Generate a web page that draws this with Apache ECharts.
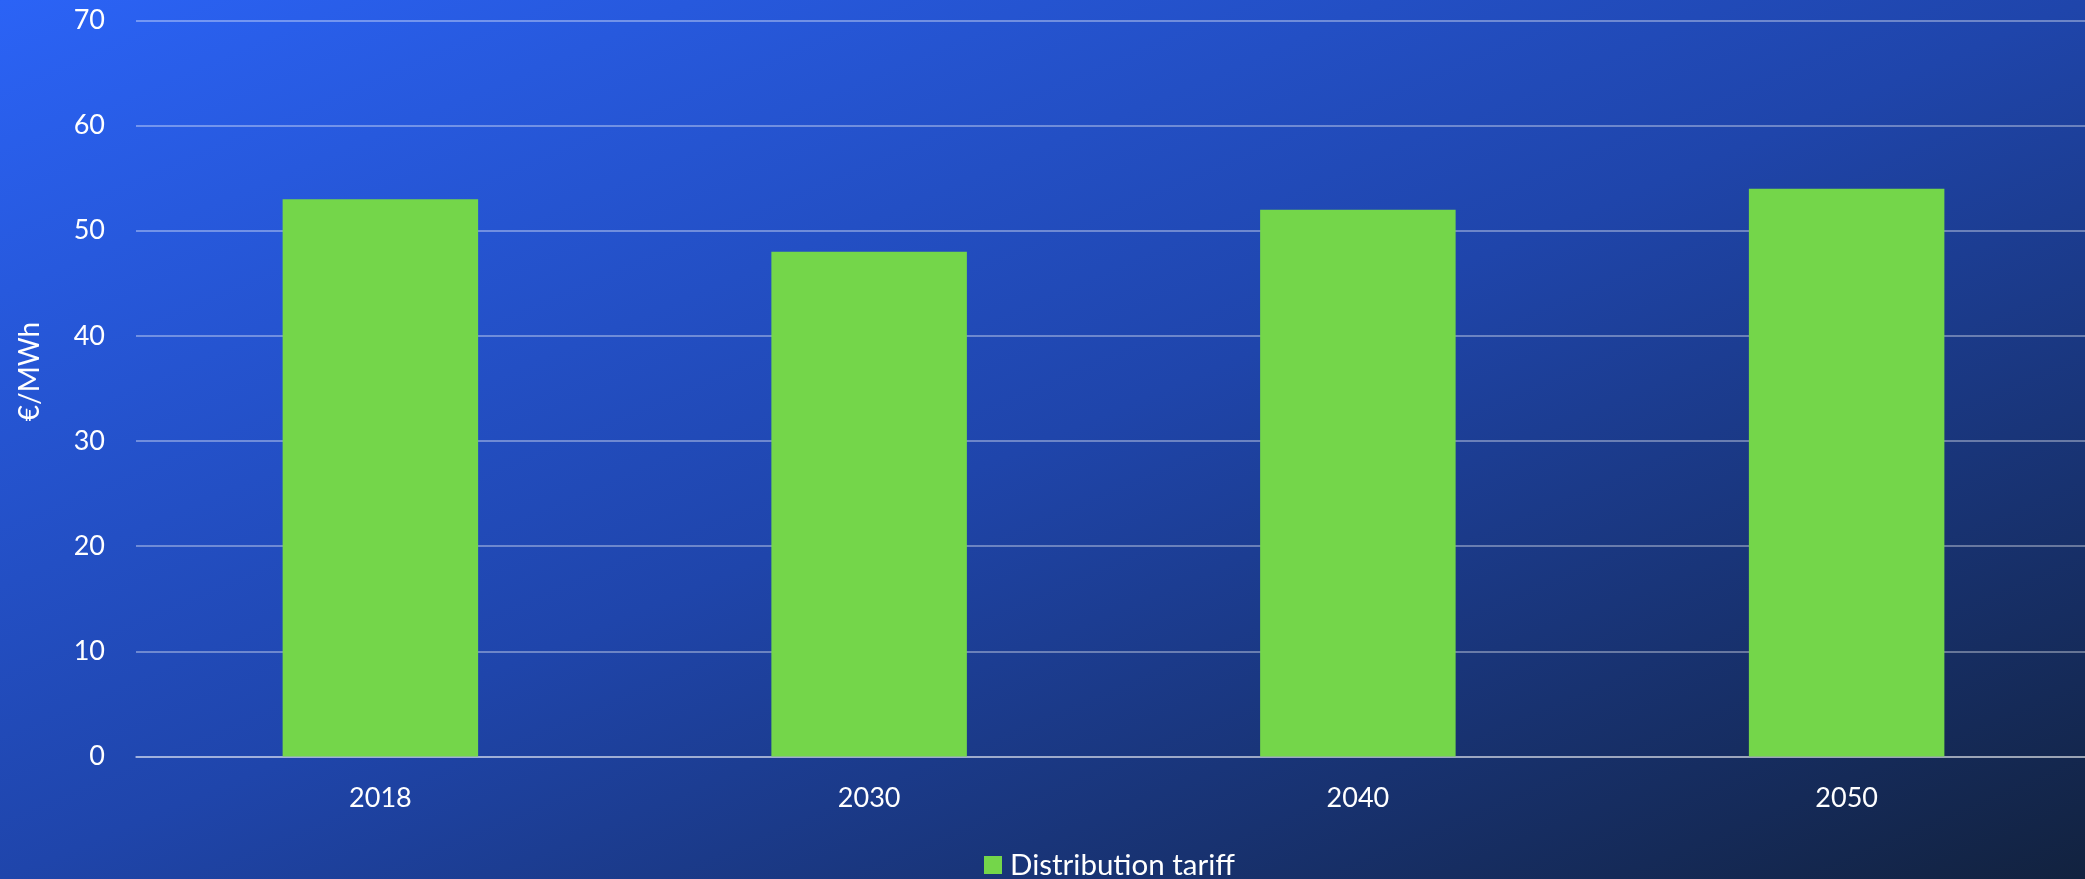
<!DOCTYPE html>
<html>
<head>
<meta charset="utf-8">
<title>Distribution tariff</title>
<script src="https://cdn.jsdelivr.net/npm/echarts@6/dist/echarts.min.js"></script>
<style>
  html, body { margin: 0; padding: 0; overflow: hidden; }
  /* plot area of the original runs a few px past the right edge */
  #chart { width: 2091px; height: 879px; }
</style>
</head>
<body>
<div id="chart"></div>
<script>
var years = ['2018', '2030', '2040', '2050'];
var tariff = [53, 48, 52, 54];
var seriesName = 'Distribution tariff';
var unitName = '€/MWh';

var chart = echarts.init(document.getElementById('chart'));

// background runs from bright blue (top left) to navy (bottom right)
var bg = new echarts.graphic.LinearGradient(728, -307, 1357, 1186, [
    { offset: 0, color: '#2b63f6' },
    { offset: 0.5, color: '#1f45ab' },
    { offset: 1, color: '#12223f' }
], true);

var textFont = 'Lato, "Open Sans", sans-serif';

var option = {
    backgroundColor: bg,
    textStyle: { fontFamily: textFont },
    grid: {
        left: 136,
        right: 0,
        top: 20.5,
        bottom: 122.5
    },
    legend: {
        data: [seriesName],
        bottom: -1,
        left: 984,
        padding: 0,
        icon: 'rect',
        itemWidth: 18,
        itemHeight: 18,
        itemGap: 10,
        textStyle: { color: '#ffffff', fontSize: 29.5, fontFamily: textFont, padding: [0, 0, 0, 3] }
    },
    xAxis: {
        type: 'category',
        data: years,
        axisTick: { show: false },
        axisLine: { lineStyle: { color: 'rgba(255,255,255,0.35)', width: 2 } },
        axisLabel: { color: '#ffffff', fontSize: 27, margin: 28 }
    },
    yAxis: {
        type: 'value',
        min: 0,
        max: 70,
        interval: 10,
        name: unitName,
        nameLocation: 'middle',
        nameRotate: 90,
        nameGap: 92,
        nameTextStyle: { color: '#ffffff', fontSize: 28, padding: [0, 0, 0, 34] },
        axisLabel: { color: '#ffffff', fontSize: 27, margin: 31 },
        splitLine: { lineStyle: { color: 'rgba(255,255,255,0.35)', width: 2 } }
    },
    series: [{
        name: seriesName,
        type: 'bar',
        data: tariff,
        barWidth: '40%',
        itemStyle: { color: '#74d64a' }
    }]
};

chart.setOption(option);
</script>
</body>
</html>
